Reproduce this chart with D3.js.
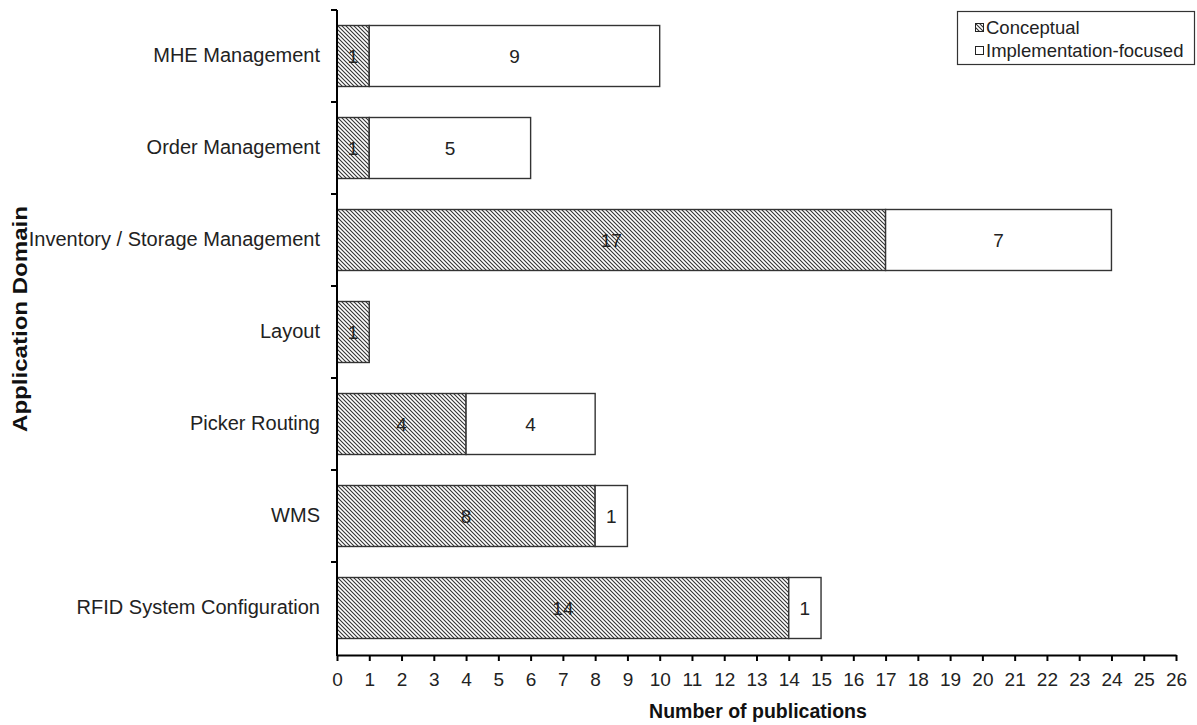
<!DOCTYPE html>
<html><head><meta charset="utf-8">
<script src="https://cdn.jsdelivr.net/npm/d3@7"></script>
<style>body{margin:0;background:#fff}svg{display:block;font-family:"Liberation Sans",Arial,sans-serif}</style>
</head><body><svg id="c" width="1197" height="725"></svg>
<script>
const categories = ["MHE Management","Order Management","Inventory / Storage Management","Layout","Picker Routing","WMS","RFID System Configuration"];
const conceptual = [1,1,17,1,4,8,14];
const implementation = [9,5,7,0,4,1,1];
const xTicks = d3.range(0,27);
const seriesNames = ["Conceptual","Implementation-focused"];

const svg = d3.select("#c");
const defs = svg.append("defs");
const pat = defs.append("pattern").attr("id","hatch").attr("patternUnits","userSpaceOnUse")
  .attr("width",4).attr("height",4);
pat.append("rect").attr("width",4).attr("height",4).attr("fill","#fff");
pat.append("path").attr("d","M-1,-1 L5,5 M-1,3 L1,5 M3,-1 L5,1").attr("stroke","#333").attr("stroke-width",1.1);

const x = d3.scaleLinear().domain([0,26]).range([337,1176]);
const y = d3.scaleBand().domain(categories).range([10,654]).paddingInner(0.337).paddingOuter(0.1685);

const g = svg.append("g");
const rows = categories.map((c,i)=>({c, a:conceptual[i], b:implementation[i]}));

g.selectAll(".ca").data(rows).join("rect")
  .attr("x",x(0)).attr("y",d=>y(d.c)).attr("width",d=>x(d.a)-x(0)).attr("height",y.bandwidth())
  .attr("fill","url(#hatch)").attr("stroke","#333").attr("stroke-width",1.4);
g.selectAll(".cb").data(rows.filter(d=>d.b>0)).join("rect")
  .attr("x",d=>x(d.a)).attr("y",d=>y(d.c)).attr("width",d=>x(d.a+d.b)-x(d.a)).attr("height",y.bandwidth())
  .attr("fill","#fff").attr("stroke","#333").attr("stroke-width",1.4);

g.selectAll(".la").data(rows).join("text")
  .attr("x",d=>x(d.a/2)).attr("y",d=>y(d.c)+y.bandwidth()/2+7)
  .attr("text-anchor","middle").attr("font-size",19).attr("fill","#222").text(d=>d.a);
g.selectAll(".lb").data(rows.filter(d=>d.b>0)).join("text")
  .attr("x",d=>x(d.a+d.b/2)).attr("y",d=>y(d.c)+y.bandwidth()/2+7)
  .attr("text-anchor","middle").attr("font-size",19).attr("fill","#222").text(d=>d.b);

const xa = svg.append("g").attr("transform","translate(0,655)")
  .call(d3.axisBottom(x).tickValues(xTicks).tickFormat(d3.format("d")).tickSize(6).tickSizeOuter(0).tickPadding(12));
xa.select(".domain").attr("stroke","#000").attr("stroke-width",2);
xa.selectAll(".tick line").attr("stroke","#000").attr("stroke-width",2);
xa.selectAll("text").attr("font-size",19).attr("fill","#222").attr("font-family","Liberation Sans, Arial, sans-serif");

const ya = svg.append("g").attr("transform","translate(337,0)")
  .call(d3.axisLeft(y).tickSize(0).tickPadding(17));
ya.select(".domain").remove();
ya.selectAll("text").attr("font-size",20).attr("fill","#222").attr("font-family","Liberation Sans, Arial, sans-serif");
svg.append("line").attr("x1",337).attr("x2",337).attr("y1",10).attr("y2",656).attr("stroke","#000").attr("stroke-width",2);
const bounds = d3.range(0,7).map(i=> 10 + i*(644/7));
svg.selectAll(".yt").data(bounds).join("line")
  .attr("x1",331).attr("x2",337).attr("y1",d=>d).attr("y2",d=>d).attr("stroke","#000").attr("stroke-width",2);

svg.append("text").attr("x",758).attr("y",718).attr("text-anchor","middle")
  .attr("font-size",19.5).attr("font-weight","bold").attr("fill","#111").text("Number of publications");
svg.append("text").attr("transform","translate(27,319) rotate(-90)").attr("text-anchor","middle")
  .attr("font-size",20).attr("font-weight","bold").attr("fill","#111")
  .attr("textLength",226).attr("lengthAdjust","spacingAndGlyphs").text("Application Domain");

const lg = svg.append("g");
lg.append("rect").attr("x",957.5).attr("y",11.5).attr("width",237).attr("height",53).attr("fill","#fff").attr("stroke","#333").attr("stroke-width",1.2);
seriesNames.forEach((s,i)=>{
  const yy = 28 + i*23;
  lg.append("rect").attr("x",975.5).attr("y",yy-4.5).attr("width",8).attr("height",8)
    .attr("fill", i===0?"url(#hatch)":"#fff").attr("stroke","#222").attr("stroke-width",1);
  lg.append("text").attr("x",986).attr("y",yy+6).attr("font-size",18.5).attr("fill","#222").text(s);
});
</script></body></html>
